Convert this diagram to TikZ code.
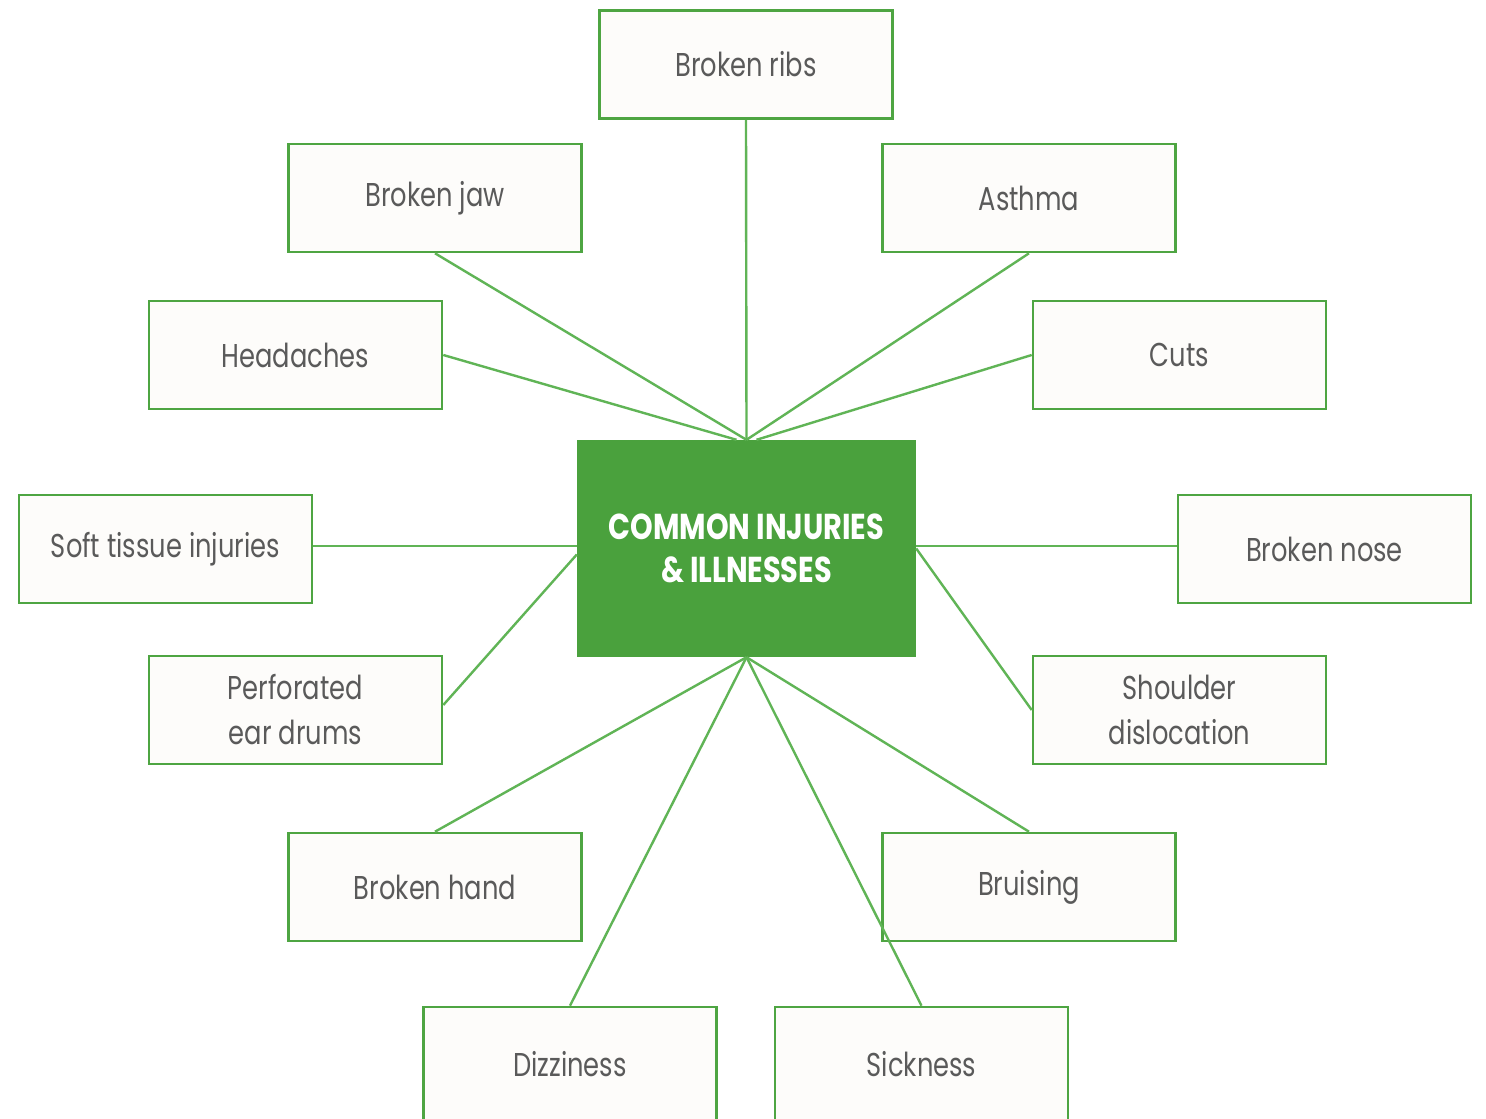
\documentclass[tikz,border=0pt]{standalone}
\usepackage{fontspec}
\setmainfont{Poppins}[FakeStretch=0.78]
\newfontfamily\titlefont{Poppins}[FakeStretch=0.8]
\definecolor{boxgreen}{RGB}{78,165,66}
\definecolor{linegreen}{RGB}{96,180,86}
\definecolor{centergreen}{RGB}{74,161,61}
\definecolor{boxfill}{RGB}{253,252,250}
\definecolor{textgray}{RGB}{90,90,90}
\tikzset{
  leaf/.style={draw=boxgreen, line width=2.6pt, fill=boxfill, minimum width=293pt, minimum height=108pt,
    inner sep=0pt, align=center, text=textgray, font=\fontsize{33}{45}\selectfont},
  hub/.style={fill=centergreen, minimum width=339pt, minimum height=217pt, inner sep=0pt,
    align=center, text=white, font=\titlefont\bfseries\fontsize{36}{43}\selectfont},
  link/.style={draw=linegreen, line width=2.4pt}
}
\begin{document}
\begin{tikzpicture}[x=1pt,y=-1pt]
\useasboundingbox (0,0) rectangle (1486,1119);
\fill[white] (0,0) rectangle (1486,1119);
\node[hub] (c) at (746.5,548.5) {COMMON INJURIES\\\& ILLNESSES};
\node[leaf] (ribs) at (746,64.5) {Broken ribs};
\node[leaf] (jaw) at (435,198) {Broken jaw};
\node[leaf] (asthma) at (1029,198) {Asthma};
\node[leaf] (head) at (295.5,355) {Headaches};
\node[leaf] (cuts) at (1179.5,355) {Cuts};
\node[leaf] (soft) at (165.5,549) {Soft tissue injuries};
\node[leaf] (nose) at (1324.5,549) {Broken nose};
\node[leaf] (perf) at (295.5,710) {Perforated\\ear drums};
\node[leaf] (shoulder) at (1179.5,710) {Shoulder\\dislocation};
\node[leaf] (hand) at (435,887) {Broken hand};
\node[leaf] (bruise) at (1029,887) {Bruising};
\node[leaf, minimum height=114pt] (dizzy) at (570,1064) {Dizziness};
\node[leaf, minimum height=114pt] (sick) at (921.5,1064) {Sickness};
\draw[link] (ribs.south) -- (c.north);
\draw[link] (jaw.south) -- (c.north);
\draw[link] (asthma.south) -- (c.north);
\draw[link] (head.east) -- ([xshift=-10pt]c.north);
\draw[link] (cuts.west) -- ([xshift=10pt]c.north);
\draw[link] ([yshift=3pt]soft.east) -- ([yshift=3pt]soft.east -| c.west);
\draw[link] ([yshift=3pt]nose.west) -- ([yshift=3pt]nose.west -| c.east);
\draw[link] ([yshift=5pt]perf.east) -- ([yshift=-6pt]c.west);
\draw[link] (shoulder.west) -- (c.east);
\draw[link] (hand.north) -- (c.south);
\draw[link] (bruise.north) -- (c.south);
\draw[link] (dizzy.north) -- (c.south);
\draw[link] (sick.north) -- (c.south);
\end{tikzpicture}
\end{document}
